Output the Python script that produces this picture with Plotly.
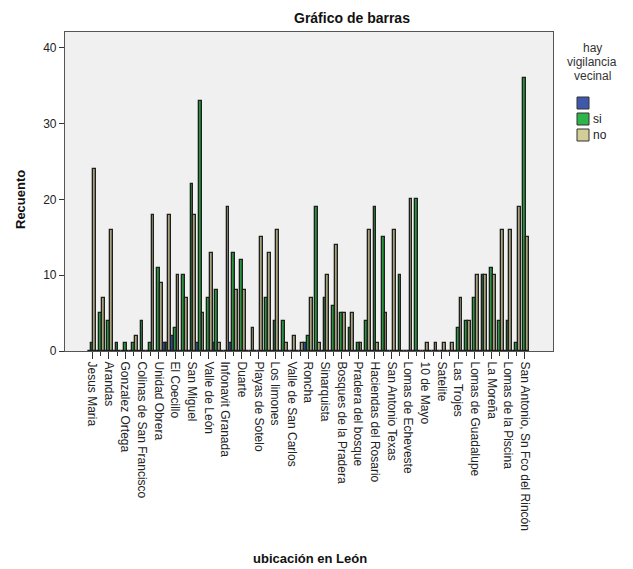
import plotly.graph_objects as go

# Labeled neighbourhoods (every other category is labeled on the axis)
tick_labels = [
    "Jesus Maria", "Arandas", "Gonzalez Ortega", "Colinas de San Francisco",
    "Unidad Obrera", "El Coecillo", "San Miguel", "Valle de León",
    "Infonavit Granada", "Duarte", "Playas de Sotelo", "Los limones",
    "Valle de San Carlos", "Roncha", "Sinarquista", "Bosques de la Pradera",
    "Pradera del bosque", "Haciendas del Rosario", "San Antonio Texas",
    "Lomas de Echeveste", "10 de Mayo", "Satelite", "Las Trojes",
    "Lomas de Guadalupe", "La Moreña", "Lomas de la Piscina",
    "San Antonio, Sn Fco del Rincón",
]

# Category index (53 categories, labels shown on every other one)
cat_index = list(range(53))

blank_vals = [0, 0, 0, 0, 0, 0, 0, 0, 0, 1, 2, 0, 0, 1, 0, 1, 0, 1, 0, 0,
              0, 0, 0, 0, 0, 0, 1, 0, 0, 0, 0, 0, 0, 0, 0, 0, 0, 0, 0, 0,
              0, 0, 0, 0, 0, 0, 0, 0, 0, 0, 0, 0, 0]
si_vals = [1, 5, 4, 1, 1, 1, 4, 1, 11, 1, 3, 10, 22, 33, 7, 8, 0, 13, 12, 0,
           0, 7, 4, 4, 0, 0, 2, 19, 7, 6, 5, 3, 1, 4, 19, 15, 0, 10, 0, 20,
           0, 0, 0, 0, 3, 4, 7, 10, 11, 4, 4, 1, 36]
no_vals = [24, 7, 16, 0, 0, 2, 0, 18, 9, 18, 10, 7, 18, 5, 13, 1, 19, 8, 8, 3,
           15, 13, 16, 1, 2, 1, 7, 1, 10, 14, 5, 5, 1, 16, 1, 5, 16, 0, 20, 0,
           1, 1, 1, 1, 7, 4, 10, 10, 10, 16, 16, 19, 15]

series_names = ["", "si", "no"]
series_colors = ["#3E58AC", "#2DB44A", "#D3CE97"]      # legend swatches
bar_fill_colors = ["#2F4690", "#24963C", "#A8A27C"]   # thin bars look darker
legend_title_lines = ["hay", "vigilancia", "vecinal"]

W, H = 633, 569
OFF = 8  # page body margin offset of the html page
L, R, T, B = 65, 553, 32, 351  # desired plot-area edges in screen pixels

fig = go.Figure()
for name, vals, col in zip(series_names, [blank_vals, si_vals, no_vals], bar_fill_colors):
    fig.add_trace(go.Bar(
        x=cat_index, y=vals, name=name, showlegend=False,
        marker=dict(color=col, line=dict(color="#1f1f1f", width=1.3)),
    ))

ml, mt = L - OFF, T - OFF
mr, mb = W - (R - OFF), H - (B - OFF)
pw, ph = W - ml - mr, H - mt - mb


def px(xs):  # screen x -> paper x
    return (xs - L) / pw


def py(ys):  # screen y -> paper y
    return (B - ys) / ph


annotations = [
    dict(text="<b>Gráfico de barras</b>", x=px(352), y=py(18),
         font=dict(size=14, color="#111")),
    dict(text="<b>Recuento</b>", x=px(20), y=py(200), textangle=-90,
         font=dict(size=13, color="#111")),
    dict(text="<b>ubicación en León</b>", x=px(310), y=py(558),
         font=dict(size=13, color="#111")),
]
for i, line in enumerate(legend_title_lines):
    annotations.append(dict(text=line, x=px(592), y=py(48 + 14 * i),
                            font=dict(size=12, color="#333")))

shapes = []
sw_top = [97, 113, 129]
for top, name, col in zip(sw_top, series_names, series_colors):
    shapes.append(dict(type="rect", xref="paper", yref="paper",
                       x0=px(577), x1=px(589), y0=py(top + 12), y1=py(top),
                       fillcolor=col, line=dict(color="#333", width=1)))
    if name:
        annotations.append(dict(text=name, x=px(591), y=py(top + 6),
                                xanchor="left", font=dict(size=12, color="#222")))

for a in annotations:
    a.setdefault("xref", "paper")
    a.setdefault("yref", "paper")
    a.setdefault("showarrow", False)
    a.setdefault("xanchor", "center")
    a.setdefault("yanchor", "middle")

fig.update_layout(
    width=W, height=H,
    barmode="group", bargap=0.0, bargroupgap=0.0,
    paper_bgcolor="white", plot_bgcolor="#F0F0F0",
    margin=dict(l=ml, r=mr, t=mt, b=mb, autoexpand=False),
    font=dict(family="Liberation Sans, Arial, sans-serif", color="#222", size=11),
    showlegend=False,
    xaxis=dict(
        range=[-3.25, 55.4], tickmode="array",
        tickvals=cat_index[::2], ticktext=tick_labels,
        tickangle=90, ticks="outside", ticklen=7, tickcolor="#333",
        tickfont=dict(size=12, color="#222"),
        minor=dict(ticks="outside", ticklen=4, tickmode="array",
                   tickvals=cat_index[1::2], tickcolor="#333"),
        showgrid=False, zeroline=False,
        showline=True, linecolor="#555", linewidth=1.2, mirror=True,
    ),
    yaxis=dict(
        range=[0, 42.1], tickvals=[0, 10, 20, 30, 40],
        ticks="outside", ticklen=5, tickcolor="#333",
        tickfont=dict(size=12, color="#222"),
        showgrid=False, zeroline=False,
        showline=True, linecolor="#555", linewidth=1.2, mirror=True,
    ),
    annotations=annotations,
    shapes=shapes,
)

fig.write_html("out.html")
